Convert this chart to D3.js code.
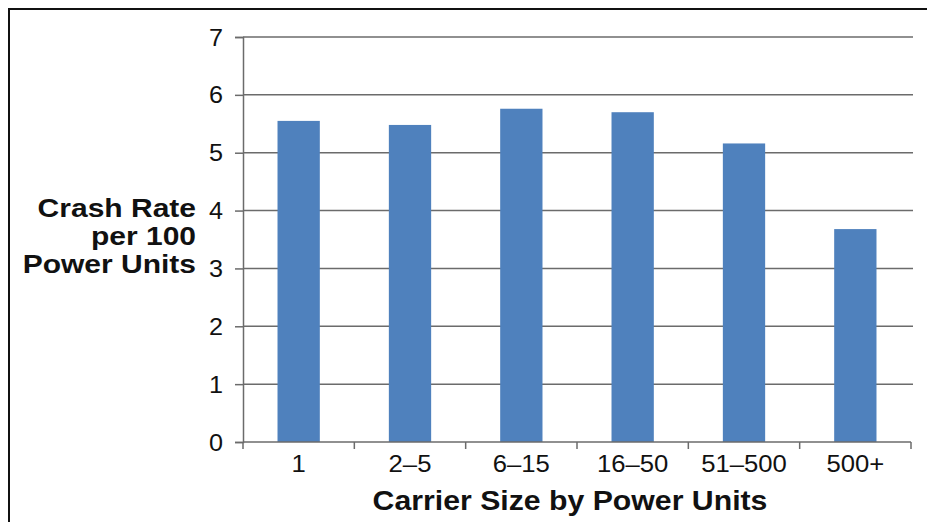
<!DOCTYPE html>
<html>
<head>
<meta charset="utf-8">
<script src="https://cdn.jsdelivr.net/npm/d3@7"></script>
<style>
  html, body { margin: 0; padding: 0; background: #fff; }
  svg { display: block; }
</style>
</head>
<body>
<svg id="chart" width="927" height="522"></svg>
<script>
// Crash rate per 100 power units, by carrier size
const categories = ["1", "2\u20135", "6\u201315", "16\u201350", "51\u2013500", "500+"];
const crashRates = [5.55, 5.48, 5.76, 5.70, 5.16, 3.68];
const yTicks = [0, 1, 2, 3, 4, 5, 6, 7];
const yTitleLines = ["Crash Rate", "per 100", "Power Units"];
const xTitle = "Carrier Size by Power Units";

const svg = d3.select("#chart");
const font = "'Liberation Sans', Arial, Helvetica, sans-serif";

const plot = { left: 243, right: 911, top: 37, bottom: 442 };

// Text placed at (x, y) and widened horizontally by sx
function wideText(parent, x, y, sx, str, opts) {
  const g = parent.append("g").attr("transform", `translate(${x},${y}) scale(${sx},1)`);
  return g.append("text")
    .attr("text-anchor", opts.anchor || "start")
    .attr("font-family", font)
    .attr("font-size", opts.size)
    .attr("font-weight", opts.weight || "normal")
    .attr("fill", "#111")
    .text(str);
}

// Outer frame
svg.append("rect")
  .attr("x", 9).attr("y", 9)
  .attr("width", 940).attr("height", 540)
  .attr("fill", "none").attr("stroke", "#111").attr("stroke-width", 2);

const x = d3.scaleBand()
  .domain(categories)
  .range([plot.left, plot.right])
  .paddingInner(0.62)
  .paddingOuter(0.31);

const y = d3.scaleLinear()
  .domain([0, 7])
  .range([plot.bottom, plot.top]);

// Horizontal gridlines
svg.append("g")
  .selectAll("line")
  .data(yTicks.filter(d => d > 0))
  .join("line")
  .attr("x1", plot.left).attr("x2", plot.right + 2)
  .attr("y1", d => y(d)).attr("y2", d => y(d))
  .attr("stroke", "#6b6b6b").attr("stroke-width", 1.5);

// Bars
svg.append("g")
  .selectAll("rect")
  .data(crashRates)
  .join("rect")
  .attr("x", (d, i) => x(categories[i]))
  .attr("width", x.bandwidth())
  .attr("y", d => y(d))
  .attr("height", d => y(0) - y(d))
  .attr("fill", "#4f81bd");

// Y axis (line and ticks from d3.axisLeft, labels drawn widened)
const yAxis = svg.append("g")
  .attr("transform", `translate(${plot.left},0)`)
  .call(d3.axisLeft(y).tickValues(yTicks).tickSize(8).tickFormat(""));
yAxis.select(".domain").attr("stroke", "#6b6b6b").attr("stroke-width", 1.5);
yAxis.selectAll(".tick line").attr("stroke", "#6b6b6b").attr("stroke-width", 1.5);
yTicks.forEach(t => {
  wideText(svg, 223, y(t) + 8.5, 1.05, d3.format("d")(t), { size: 24, anchor: "end" });
});

// X axis: category boundary ticks
const xAxisG = svg.append("g").attr("transform", `translate(0,${plot.bottom})`);
xAxisG.append("line")
  .attr("x1", plot.left).attr("x2", plot.right)
  .attr("stroke", "#6b6b6b").attr("stroke-width", 1.5);
const step = x.step();
const boundaries = d3.range(categories.length + 1).map(i => plot.left + i * step);
xAxisG.selectAll("line.tk")
  .data(boundaries)
  .join("line").attr("class", "tk")
  .attr("x1", d => d).attr("x2", d => d)
  .attr("y1", 0).attr("y2", 7)
  .attr("stroke", "#6b6b6b").attr("stroke-width", 1.5);
categories.forEach(c => {
  wideText(svg, x(c) + x.bandwidth() / 2, plot.bottom + 30, 1.07, c, { size: 24, anchor: "middle" });
});

// Axis titles
wideText(svg, 570, 510, 1.12, xTitle, { size: 27, weight: "bold", anchor: "middle" });

yTitleLines.forEach((line, i) => {
  wideText(svg, 196, 217 + i * 28, 1.2, line, { size: 25, weight: "bold", anchor: "end" });
});
</script>
</body>
</html>
